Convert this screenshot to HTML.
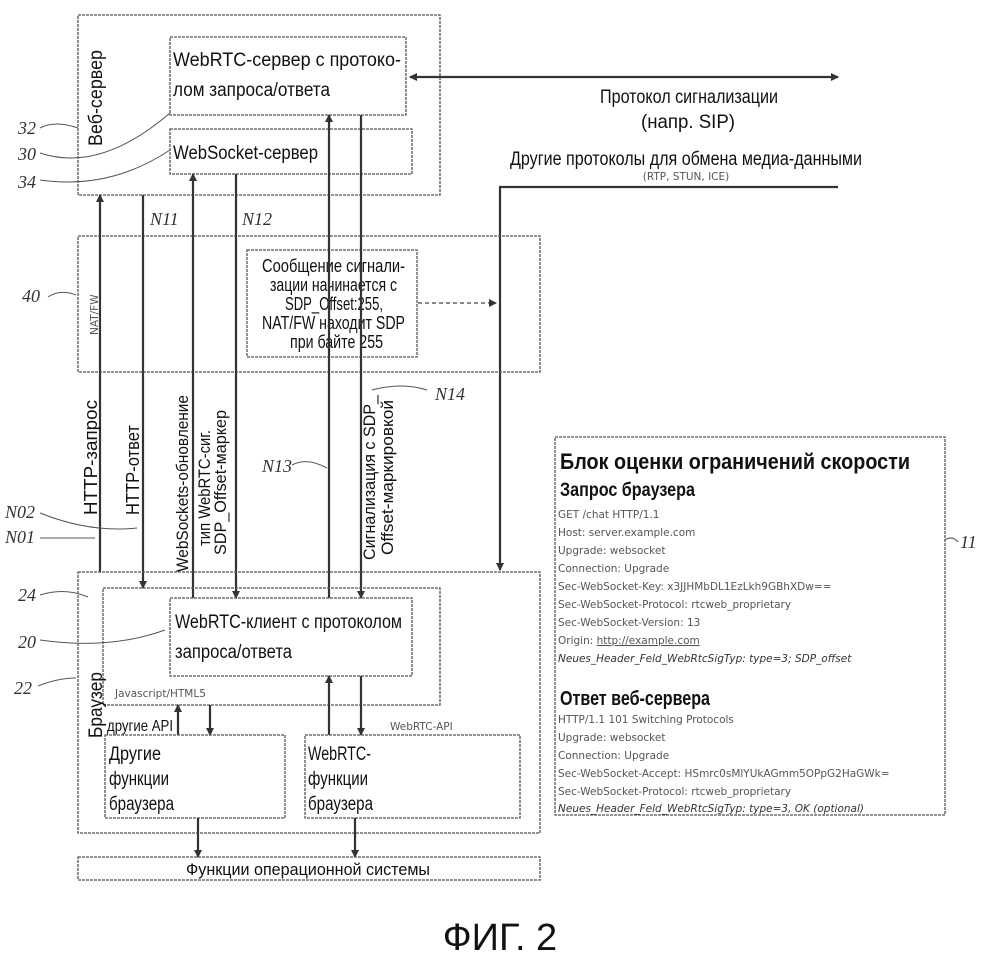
<!DOCTYPE html>
<html><head><meta charset="utf-8"><style>
html,body{margin:0;padding:0;background:#fff;}
svg{display:block;font-family:"Liberation Sans",sans-serif;}
.b{fill:none;stroke:#555;stroke-width:1.3;stroke-dasharray:3 1;}
.l{stroke:#333;stroke-width:2.2;fill:none;}
.t{fill:#111;font-family:"Liberation Sans",sans-serif;}
.h{fill:#333;font-family:"Liberation Serif",serif;font-style:italic;font-size:18px;}
.s{fill:#555;font-size:10.5px;font-family:"DejaVu Sans",sans-serif;}
</style></head><body>
<svg width="1000" height="955" viewBox="0 0 1000 955">
<defs>
<marker id="a" markerWidth="8" markerHeight="8" refX="7" refY="4" orient="auto" markerUnits="userSpaceOnUse"><path d="M0,0 L8,4 L0,8 Z" fill="#333"/></marker>
<marker id="ar" markerWidth="8" markerHeight="8" refX="1" refY="4" orient="auto" markerUnits="userSpaceOnUse"><path d="M8,0 L0,4 L8,8 Z" fill="#333"/></marker>
</defs>
<!-- web server -->
<rect class="b" x="78" y="15" width="362" height="180"/>
<rect class="b" x="170" y="37" width="236" height="78"/>
<rect class="b" x="170" y="129" width="242" height="45"/>
<text class="t" font-size="19" x="173" y="66" textLength="228" lengthAdjust="spacingAndGlyphs">WebRTC-сервер с протоко-</text>
<text class="t" font-size="19" x="173" y="96" textLength="157" lengthAdjust="spacingAndGlyphs">лом запроса/ответа</text>
<text class="t" font-size="19" x="173" y="159" textLength="145" lengthAdjust="spacingAndGlyphs">WebSocket-сервер</text>
<text class="t" font-size="19" transform="translate(102,146) rotate(-90)" textLength="96" lengthAdjust="spacingAndGlyphs">Веб-сервер</text>
<!-- signalling arrow -->
<line class="l" x1="410" y1="77" x2="838" y2="77" marker-start="url(#ar)" marker-end="url(#a)"/>
<text class="t" font-size="19" x="600" y="103" textLength="178" lengthAdjust="spacingAndGlyphs">Протокол сигнализации</text>
<text class="t" font-size="19" x="641" y="128" textLength="94" lengthAdjust="spacingAndGlyphs">(напр. SIP)</text>
<text class="t" font-size="19" x="510" y="165" textLength="352" lengthAdjust="spacingAndGlyphs">Другие протоколы для обмена медиа-данными</text>
<text class="s" x="686" y="180" text-anchor="middle">(RTP, STUN, ICE)</text>
<polyline class="l" points="838,187 500,187 500,570" marker-end="url(#a)"/>
<!-- NAT -->
<rect class="b" x="78" y="236" width="462" height="136"/>
<text class="s" transform="translate(98,335) rotate(-90)">NAT/FW</text>
<rect class="b" x="247" y="250" width="170" height="107"/>
<text class="t" font-size="18" x="262" y="272" textLength="143" lengthAdjust="spacingAndGlyphs">Сообщение сигнали-</text>
<text class="t" font-size="18" x="270" y="291" textLength="127" lengthAdjust="spacingAndGlyphs">зации начинается с</text>
<text class="t" font-size="18" x="285" y="310" textLength="98" lengthAdjust="spacingAndGlyphs">SDP_Offset:255,</text>
<text class="t" font-size="18" x="262" y="329" textLength="143" lengthAdjust="spacingAndGlyphs">NAT/FW находит SDP</text>
<text class="t" font-size="18" x="290" y="348" textLength="93" lengthAdjust="spacingAndGlyphs">при байте 255</text>
<line x1="418" y1="303" x2="496" y2="303" stroke="#444" stroke-width="1.3" stroke-dasharray="4 3" marker-end="url(#a)"/>
<!-- vertical connectors -->
<line class="l" x1="100" y1="572" x2="100" y2="195" marker-end="url(#a)"/>
<line class="l" x1="143" y1="195" x2="143" y2="588" marker-end="url(#a)"/>
<line class="l" x1="193" y1="598" x2="193" y2="174" marker-end="url(#a)"/>
<line class="l" x1="236" y1="174" x2="236" y2="598" marker-end="url(#a)"/>
<line class="l" x1="329" y1="598" x2="329" y2="115" marker-end="url(#a)"/>
<line class="l" x1="361" y1="115" x2="361" y2="598" marker-end="url(#a)"/>
<text class="h" x="150" y="225">N11</text>
<text class="h" x="242" y="225">N12</text>
<text class="h" x="262" y="472">N13</text>
<text class="h" x="435" y="400">N14</text>
<path d="M372,390 q30,-8 55,0" stroke="#555" fill="none"/>
<path d="M292,465 q15,-8 35,3" stroke="#555" fill="none"/>
<text class="t" font-size="18" transform="translate(97,515) rotate(-90)" textLength="115" lengthAdjust="spacingAndGlyphs">HTTP-запрос</text>
<text class="t" font-size="18" transform="translate(139,515) rotate(-90)" textLength="90" lengthAdjust="spacingAndGlyphs">HTTP-ответ</text>
<text class="t" font-size="17" transform="translate(188,572) rotate(-90)" textLength="177" lengthAdjust="spacingAndGlyphs">WebSockets-обновление</text>
<text class="t" font-size="17" transform="translate(210,546) rotate(-90)" textLength="116" lengthAdjust="spacingAndGlyphs">тип WebRTC-сиг.</text>
<text class="t" font-size="17" transform="translate(226,555) rotate(-90)" textLength="145" lengthAdjust="spacingAndGlyphs">SDP_Offset-маркер</text>
<text class="t" font-size="17" transform="translate(375,560) rotate(-90)" textLength="165" lengthAdjust="spacingAndGlyphs">Сигнализация с SDP_</text>
<text class="t" font-size="17" transform="translate(393,555) rotate(-90)" textLength="155" lengthAdjust="spacingAndGlyphs">Offset-маркировкой</text>
<!-- browser -->
<rect class="b" x="78" y="572" width="462" height="261"/>
<rect class="b" x="103" y="588" width="337" height="117"/>
<rect class="b" x="170" y="598" width="242" height="78"/>
<text class="t" font-size="19" x="175" y="628" textLength="227" lengthAdjust="spacingAndGlyphs">WebRTC-клиент с протоколом</text>
<text class="t" font-size="19" x="175" y="658" textLength="117" lengthAdjust="spacingAndGlyphs">запроса/ответа</text>
<text class="s" x="115" y="697">Javascript/HTML5</text>
<text class="t" font-size="19" transform="translate(102,738) rotate(-90)" textLength="66" lengthAdjust="spacingAndGlyphs">Браузер</text>
<text class="t" font-size="16" x="107" y="731" textLength="66" lengthAdjust="spacingAndGlyphs">другие API</text>
<line class="l" x1="178" y1="735" x2="178" y2="705" marker-end="url(#a)"/>
<line class="l" x1="210" y1="705" x2="210" y2="735" marker-end="url(#a)"/>
<line class="l" x1="329" y1="735" x2="329" y2="676" marker-end="url(#a)"/>
<line class="l" x1="361" y1="676" x2="361" y2="735" marker-end="url(#a)"/>
<text class="s" x="390" y="730">WebRTC-API</text>
<rect class="b" x="105" y="735" width="180" height="83"/>
<rect class="b" x="305" y="735" width="215" height="83"/>
<text class="t" font-size="19" x="109" y="760" textLength="52" lengthAdjust="spacingAndGlyphs">Другие</text>
<text class="t" font-size="19" x="109" y="785" textLength="60" lengthAdjust="spacingAndGlyphs">функции</text>
<text class="t" font-size="19" x="109" y="810" textLength="65" lengthAdjust="spacingAndGlyphs">браузера</text>
<text class="t" font-size="19" x="308" y="760" textLength="63" lengthAdjust="spacingAndGlyphs">WebRTC-</text>
<text class="t" font-size="19" x="308" y="785" textLength="60" lengthAdjust="spacingAndGlyphs">функции</text>
<text class="t" font-size="19" x="308" y="810" textLength="65" lengthAdjust="spacingAndGlyphs">браузера</text>
<line class="l" x1="198" y1="818" x2="198" y2="857" marker-end="url(#a)"/>
<line class="l" x1="355" y1="818" x2="355" y2="857" marker-end="url(#a)"/>
<rect class="b" x="78" y="857" width="462" height="23"/>
<text class="t" font-size="17" x="186" y="875" textLength="244" lengthAdjust="spacingAndGlyphs">Функции операционной системы</text>
<!-- reference numbers -->
<g class="h">
<text x="18" y="134">32</text><text x="18" y="160">30</text><text x="18" y="188">34</text>
<text x="22" y="302">40</text>
<text x="5" y="518">N02</text><text x="5" y="543">N01</text>
<text x="18" y="601">24</text><text x="18" y="648">20</text><text x="14" y="694">22</text>
<text x="960" y="548">11</text>
</g>
<g stroke="#555" fill="none">
<path d="M40,128 q15,-8 38,0"/><path d="M40,153 q60,20 130,-40"/><path d="M40,180 q70,10 130,-30"/>
<path d="M48,297 q12,-8 28,-2"/><path d="M40,513 q50,20 97,15"/><path d="M40,538 q30,0 55,0"/>
<path d="M40,595 q25,-8 48,2"/><path d="M40,640 q70,10 125,-10"/><path d="M38,686 q20,-8 38,-8"/>
<path d="M945,540 q7,-5 13,2"/>
</g>
<!-- right block -->
<rect class="b" x="555" y="437" width="390" height="378"/>
<text class="t" font-size="22" font-weight="bold" x="560" y="469" textLength="350" lengthAdjust="spacingAndGlyphs">Блок оценки ограничений скорости</text>
<text class="t" font-size="19" font-weight="bold" x="560" y="496" textLength="135" lengthAdjust="spacingAndGlyphs">Запрос браузера</text>
<g class="s">
<text x="558" y="518">GET /chat HTTP/1.1</text>
<text x="558" y="536">Host: server.example.com</text>
<text x="558" y="554">Upgrade: websocket</text>
<text x="558" y="572">Connection: Upgrade</text>
<text x="558" y="590">Sec-WebSocket-Key: x3JJHMbDL1EzLkh9GBhXDw==</text>
<text x="558" y="608">Sec-WebSocket-Protocol: rtcweb_proprietary</text>
<text x="558" y="626">Sec-WebSocket-Version: 13</text>
<text x="558" y="644">Origin: <tspan text-decoration="underline">http://example.com</tspan></text>
<text x="558" y="662" font-style="italic" fill="#333">Neues_Header_Feld_WebRtcSigTyp: type=3; SDP_offset</text>
<text x="558" y="723">HTTP/1.1 101 Switching Protocols</text>
<text x="558" y="741">Upgrade: websocket</text>
<text x="558" y="759">Connection: Upgrade</text>
<text x="558" y="777">Sec-WebSocket-Accept: HSmrc0sMlYUkAGmm5OPpG2HaGWk=</text>
<text x="558" y="795">Sec-WebSocket-Protocol: rtcweb_proprietary</text>
<text x="558" y="812" font-style="italic" fill="#333">Neues_Header_Feld_WebRtcSigTyp: type=3, OK  (optional)</text>
</g>
<text class="t" font-size="20" font-weight="bold" x="560" y="705" textLength="150" lengthAdjust="spacingAndGlyphs">Ответ веб-сервера</text>
<text font-family="Liberation Sans,sans-serif" font-size="38" x="500" y="950" text-anchor="middle" fill="#111">ФИГ. 2</text>
</svg>
</body></html>
